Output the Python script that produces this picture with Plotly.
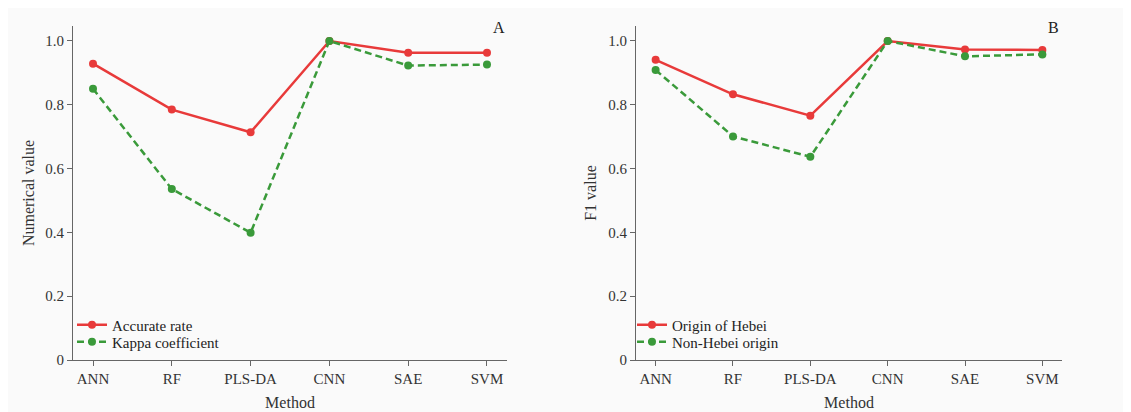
import plotly.graph_objects as go

methods = ["ANN", "RF", "PLS-DA", "CNN", "SAE", "SVM"]
accurate_rate = [0.929, 0.785, 0.714, 1.0, 0.963, 0.963]
kappa_coef = [0.850, 0.536, 0.399, 1.0, 0.923, 0.926]
origin_hebei = [0.941, 0.833, 0.766, 1.0, 0.973, 0.972]
non_hebei = [0.909, 0.701, 0.637, 1.0, 0.952, 0.958]
ytick_vals = [0, 0.2, 0.4, 0.6, 0.8, 1.0]
ytick_text = ["0", "0.2", "0.4", "0.6", "0.8", "1.0"]

RED = "#e83a3a"
GREEN = "#3a9a3a"
FONT = "Liberation Serif"
W, H = 1131, 412
OFF = 8  # page body margin offset

fig = go.Figure()

def add(x, y, name, color, dash, xa, ya, legend):
    fig.add_trace(go.Scatter(
        x=x, y=y, name=name, mode="lines+markers",
        line=dict(color=color, width=2.5, dash=dash),
        marker=dict(color=color, size=8, symbol="circle"),
        xaxis=xa, yaxis=ya, legend=legend, showlegend=True))

add(methods, accurate_rate, "Accurate rate", RED, "solid", "x", "y", "legend")
add(methods, kappa_coef, "Kappa coefficient", GREEN, "7px,4px", "x", "y", "legend2")
add(methods, origin_hebei, "Origin of Hebei", RED, "solid", "x2", "y2", "legend3")
add(methods, non_hebei, "Non-Hebei origin", GREEN, "7px,4px", "x2", "y2", "legend4")

axis_common = dict(showline=True, linecolor="#666666", linewidth=1.2,
                   ticks="outside", ticklen=5, tickcolor="#666666",
                   showgrid=False, zeroline=False, automargin=False,
                   tickfont=dict(family=FONT, size=15, color="#333333"))

def px_x(p):
    return (p - OFF) / W

def px_y(p):
    return (H - (p - OFF)) / H

top, bottom = 26, 360
ydom = [px_y(bottom), px_y(top)]

xr = [-0.254, 5.254]
yr = [0, 1.047]

title_font = dict(family=FONT, size=16, color="#333333")

def leg(xp, yp):
    return dict(x=px_x(xp), y=px_y(yp), xanchor="left", yanchor="middle",
                bgcolor="rgba(0,0,0,0)", itemwidth=30, visible=True,
                font=dict(family=FONT, size=15, color="#222222"))

fig.update_layout(
    width=W, height=H,
    showlegend=True,
    margin=dict(l=0, r=0, t=0, b=0, autoexpand=False),
    paper_bgcolor="#fafafa", plot_bgcolor="#fafafa",
    font=dict(family=FONT, size=15, color="#333333"),
    xaxis=dict(domain=[px_x(73), px_x(507)], range=xr, anchor="y",
               title=dict(text="Method", standoff=10, font=title_font),
               **axis_common),
    yaxis=dict(domain=ydom, range=yr, anchor="x",
               tickvals=ytick_vals, ticktext=ytick_text,
               title=dict(text="Numerical value", standoff=6, font=title_font),
               **axis_common),
    xaxis2=dict(domain=[px_x(636), px_x(1062)], range=xr, anchor="y2",
                title=dict(text="Method", standoff=10, font=title_font),
                **axis_common),
    yaxis2=dict(domain=ydom, range=yr, anchor="x2",
                tickvals=ytick_vals, ticktext=ytick_text,
                title=dict(text="F1 value", standoff=7, font=title_font),
                **axis_common),
    legend=leg(72, 325),
    legend2=leg(72, 342),
    legend3=leg(632, 325),
    legend4=leg(632, 342),
    annotations=[
        dict(text="A", x=px_x(499), y=px_y(28), xref="paper", yref="paper",
             xanchor="center", yanchor="middle",
             showarrow=False, font=dict(family=FONT, size=16, color="#222222")),
        dict(text="B", x=px_x(1053), y=px_y(28), xref="paper", yref="paper",
             xanchor="center", yanchor="middle",
             showarrow=False, font=dict(family=FONT, size=16, color="#222222")),
    ],
)

fig.write_html("out.html")
